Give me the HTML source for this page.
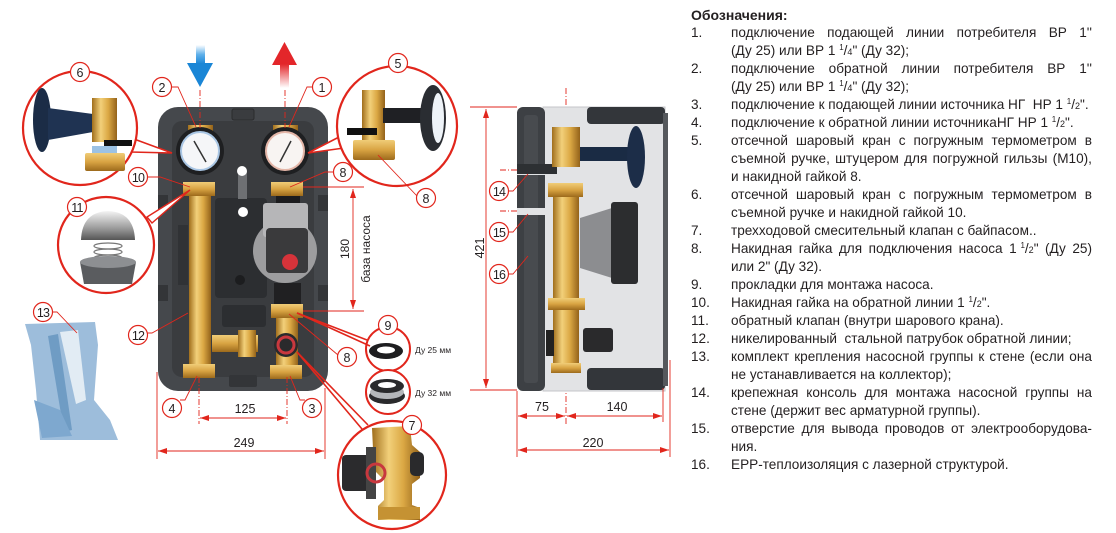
<!DOCTYPE html>
<html><head><meta charset="utf-8">
<style>
html,body{margin:0;padding:0;background:#fff;}
body{width:1116px;height:533px;position:relative;overflow:hidden;font-family:"Liberation Sans",sans-serif;color:#231f20;}
svg{position:absolute;left:0;top:0;}
.row{position:absolute;left:691px;width:401px;height:18px;line-height:18px;font-size:13.6px;white-space:nowrap;}
.n{position:absolute;left:0;top:0;}
.t{position:absolute;left:40px;top:0;width:361px;}
.j{display:flex;justify-content:space-between;}
.ttl{position:absolute;left:691px;top:6px;height:18px;line-height:18px;font-size:14px;font-weight:bold;}
sup{font-size:8px;vertical-align:5px;line-height:0;}
.s{font-size:9px;}
</style></head><body>
<svg width="1116" height="533" viewBox="0 0 1116 533" xmlns="http://www.w3.org/2000/svg" font-family="Liberation Sans, sans-serif">
<defs>
<linearGradient id="brH" x1="0" x2="1" y1="0" y2="0">
<stop offset="0" stop-color="#a06e1c"/><stop offset="0.35" stop-color="#f2d07a"/><stop offset="0.65" stop-color="#dba844"/><stop offset="1" stop-color="#93621a"/></linearGradient>
<linearGradient id="brV" x1="0" x2="0" y1="0" y2="1">
<stop offset="0" stop-color="#f0cd78"/><stop offset="0.5" stop-color="#d8a342"/><stop offset="1" stop-color="#9c6a1c"/></linearGradient>
<linearGradient id="blue" x1="0" x2="0" y1="0" y2="1">
<stop offset="0" stop-color="#ffffff"/><stop offset="0.5" stop-color="#5fb0ea"/><stop offset="1" stop-color="#1a86d6"/></linearGradient>
<linearGradient id="red" x1="0" x2="0" y1="0" y2="1">
<stop offset="0" stop-color="#e3262a"/><stop offset="1" stop-color="#ffffff"/></linearGradient>
<linearGradient id="silver" x1="0" x2="0" y1="0" y2="1">
<stop offset="0" stop-color="#f4f4f4"/><stop offset="0.6" stop-color="#9a9a9a"/><stop offset="1" stop-color="#555"/></linearGradient>
<marker id="ar" markerWidth="9" markerHeight="6" refX="9" refY="3" orient="auto-start-reverse" markerUnits="userSpaceOnUse">
<path d="M0,0 L9,3 L0,6z" fill="#e1261c"/></marker>
</defs>

<!-- ===== Front view panel ===== -->
<rect x="158" y="107" width="170" height="284" rx="20" fill="#45484c"/>
<rect x="172" y="121" width="142" height="256" rx="10" fill="#3a3c3f"/>
<rect x="232" y="109" width="22" height="11" rx="2" fill="#3a3c3f" stroke="#2a2b2d"/>
<rect x="158" y="195" width="10" height="16" fill="#333538"/>
<rect x="158" y="285" width="10" height="16" fill="#333538"/>
<rect x="318" y="195" width="10" height="16" fill="#333538"/>
<rect x="318" y="285" width="10" height="16" fill="#333538"/>
<rect x="215" y="198" width="52" height="100" rx="4" fill="#2c2e31"/>
<rect x="222" y="305" width="44" height="22" rx="3" fill="#2c2e31"/>
<rect x="178" y="225" width="10" height="60" fill="#303235"/>
<rect x="229" y="375" width="28" height="12" rx="2" fill="#333538"/>
<rect x="238" y="171" width="9" height="28" fill="#6e7073"/>
<circle cx="242" cy="171" r="5" fill="#fff"/>
<circle cx="243" cy="212" r="5" fill="#fff"/>
<circle cx="240" cy="280" r="5" fill="#1c1d1f"/>

<!-- gauges -->
<rect x="188" y="125" width="25" height="8" fill="url(#brH)"/>
<rect x="273" y="125" width="25" height="8" fill="url(#brH)"/>
<circle cx="200" cy="151" r="24" fill="#1e1f21"/>
<circle cx="200" cy="151" r="19" fill="#f5f6f8" stroke="#a9c6e4" stroke-width="2"/>
<line x1="194" y1="141" x2="206" y2="162" stroke="#333" stroke-width="1.5"/>
<circle cx="285" cy="151" r="24" fill="#1e1f21"/>
<circle cx="285" cy="151" r="19" fill="#f8f4f2" stroke="#e4b6a8" stroke-width="2"/>
<line x1="291" y1="141" x2="280" y2="162" stroke="#333" stroke-width="1.5"/>

<!-- brass nuts & pipe left -->
<rect x="183" y="182" width="32" height="14" fill="url(#brV)"/>
<rect x="189" y="196" width="22" height="168" fill="url(#brH)"/>
<rect x="183" y="364" width="32" height="14" fill="url(#brV)"/>
<!-- right side -->
<rect x="271" y="182" width="32" height="14" fill="url(#brV)"/>
<rect x="276" y="196" width="24" height="10" fill="#1c1c1e"/>
<circle cx="285" cy="251" r="32" fill="#9d9d9f"/>
<rect x="263" y="203" width="45" height="34" rx="3" fill="#b6b6b8"/>
<rect x="266" y="228" width="42" height="45" rx="4" fill="#3a3a3c"/>
<circle cx="290" cy="262" r="8" fill="#d6333a"/>
<rect x="274" y="283" width="27" height="22" fill="#202022"/>
<rect x="271" y="304" width="32" height="14" fill="url(#brV)"/>
<rect x="276" y="318" width="22" height="48" fill="url(#brH)"/>
<rect x="212" y="335" width="46" height="17" fill="url(#brV)"/>
<rect x="238" y="330" width="18" height="27" fill="url(#brH)"/>
<circle cx="286" cy="345" r="12" fill="#2a2a2c"/>
<circle cx="286" cy="345" r="8" fill="none" stroke="#c8383e" stroke-width="3"/>
<rect x="270" y="365" width="32" height="14" fill="url(#brV)"/>

<!-- flow arrows -->
<rect x="196" y="45" width="9" height="19" fill="url(#blue)"/>
<polygon points="187,63 213,63 200,87" fill="#1a86d6"/>
<polygon points="272,65 297,65 284.5,42" fill="#e3262a"/>
<rect x="280" y="64" width="9" height="24" fill="url(#red)"/>
<g stroke="#e1261c" stroke-width="0.9" fill="none" stroke-dasharray="6,2,1,2">
<line x1="200" y1="90" x2="200" y2="128"/>
<line x1="285" y1="90" x2="285" y2="128"/>
<line x1="199" y1="377" x2="199" y2="424"/>
<line x1="287" y1="377" x2="287" y2="424"/>
<line x1="566" y1="88" x2="566" y2="425"/>
<line x1="500" y1="170" x2="549" y2="170"/>
<line x1="500" y1="211" x2="551" y2="211"/>
</g>

<!-- dimensions front -->
<g stroke="#e1261c" stroke-width="0.9" fill="none">
<line x1="157" y1="372" x2="157" y2="459"/>
<line x1="325" y1="388" x2="325" y2="459"/>
<line x1="200" y1="418" x2="286" y2="418" marker-start="url(#ar)" marker-end="url(#ar)"/>
<line x1="158" y1="451" x2="324" y2="451" marker-start="url(#ar)" marker-end="url(#ar)"/>
<line x1="303" y1="187" x2="364" y2="187"/>
<line x1="303" y1="311" x2="364" y2="311"/>
<line x1="353" y1="189" x2="353" y2="309" marker-start="url(#ar)" marker-end="url(#ar)"/>
</g>
<g font-size="12.5" fill="#231f20" text-anchor="middle">
<text x="245" y="413">125</text>
<text x="244" y="447">249</text>
<text transform="translate(349,249) rotate(-90)" font-size="12">180</text>
<text transform="translate(370,249) rotate(-90)" font-size="12">база насоса</text>
</g>

<!-- ===== Side view ===== -->
<rect x="543" y="107" width="122" height="284" fill="#e2e3e5" stroke="#c4c6c9" stroke-width="1"/>
<rect x="517" y="107" width="28" height="284" rx="6" fill="#3d4044"/>
<rect x="524" y="115" width="14" height="268" rx="3" fill="#484b4f"/>
<rect x="517" y="167" width="30" height="8" fill="#e2e3e5"/>
<rect x="517" y="208" width="30" height="7" fill="#e2e3e5"/>
<rect x="517" y="164" width="40" height="10" fill="#2d3033"/>
<rect x="587" y="107" width="78" height="17" rx="4" fill="#33363a"/>
<rect x="587" y="368" width="78" height="22" rx="4" fill="#33363a"/>
<rect x="663" y="113" width="5" height="273" fill="#55585c"/>
<rect x="552" y="127" width="28" height="40" fill="url(#brH)"/>
<rect x="580" y="147" width="50" height="14" fill="#1a2b44"/>
<ellipse cx="636" cy="157" rx="9" ry="31" fill="#1c2d48"/>
<rect x="548" y="183" width="35" height="14" fill="url(#brV)"/>
<rect x="553" y="197" width="26" height="172" fill="url(#brH)"/>
<rect x="551" y="363" width="30" height="10" fill="url(#brV)"/>
<polygon points="580,218 612,208 612,278 580,268" fill="#8c8d90"/>
<rect x="611" y="202" width="27" height="82" rx="3" fill="#2c2d2f"/>
<rect x="548" y="298" width="37" height="12" fill="url(#brV)"/>
<rect x="546" y="330" width="8" height="26" fill="#222"/>
<rect x="583" y="328" width="30" height="24" rx="3" fill="#2a2a2c"/>

<g stroke="#e1261c" stroke-width="0.9" fill="none">
<line x1="470" y1="107" x2="517" y2="107"/>
<line x1="470" y1="390" x2="517" y2="390"/>
<line x1="486" y1="109" x2="486" y2="388" marker-start="url(#ar)" marker-end="url(#ar)"/>
<line x1="517" y1="391" x2="517" y2="457"/>
<line x1="663" y1="388" x2="663" y2="422"/>
<line x1="670" y1="360" x2="670" y2="457"/>
<line x1="518" y1="416" x2="565" y2="416" marker-start="url(#ar)" marker-end="url(#ar)"/>
<line x1="567" y1="416" x2="662" y2="416" marker-start="url(#ar)" marker-end="url(#ar)"/>
<line x1="518" y1="450" x2="669" y2="450" marker-start="url(#ar)" marker-end="url(#ar)"/>
</g>
<g font-size="12.5" fill="#231f20" text-anchor="middle">
<text transform="translate(484,248) rotate(-90)">421</text>
<text x="542" y="411">75</text>
<text x="617" y="411">140</text>
<text x="593" y="447">220</text>
</g>

<!-- ===== Detail circles ===== -->
<!-- 6 -->
<polygon points="134,139 172,153 131,152" fill="#fff" stroke="#e1261c" stroke-width="1.6"/>
<circle cx="80" cy="128" r="57" fill="#fff" stroke="#e1261c" stroke-width="2.2"/>
<ellipse cx="42" cy="120" rx="9" ry="32" fill="#1b2c46"/>
<polygon points="48,108 93,114 93,132 48,140" fill="#1f3352"/>
<rect x="92" y="98" width="25" height="44" fill="url(#brH)"/>
<rect x="104" y="140" width="28" height="6" fill="#111"/>
<rect x="92" y="146" width="25" height="7" fill="#9cc2e4"/>
<rect x="85" y="153" width="40" height="18" rx="2" fill="url(#brV)"/>
<!-- 11 -->
<polygon points="147,217 190,190 152,223" fill="#fff" stroke="#e1261c" stroke-width="1.4"/>
<circle cx="106" cy="245" r="48" fill="#fff" stroke="#e1261c" stroke-width="2.2"/>
<path d="M81,240 Q82,212 108,211 Q134,212 135,240 Z" fill="url(#silver)"/>
<g stroke="#777" fill="none" stroke-width="1.2"><ellipse cx="108" cy="246" rx="14" ry="3"/><ellipse cx="108" cy="252" rx="14" ry="3"/><ellipse cx="108" cy="258" rx="14" ry="3"/></g>
<polygon points="80,262 136,262 132,284 84,284" fill="#5a5c5f"/>
<ellipse cx="108" cy="262" rx="28" ry="6" fill="#8d8f92"/>
<!-- 5 -->
<polygon points="341,136 308,153 344,148" fill="#fff" stroke="#e1261c" stroke-width="1.6"/>
<circle cx="397" cy="126" r="60" fill="#fff" stroke="#e1261c" stroke-width="2.2"/>
<rect x="362" y="90" width="23" height="52" fill="url(#brH)"/>
<rect x="347" y="128" width="30" height="7" fill="#111"/>
<rect x="383" y="108" width="40" height="15" fill="#1f2024"/>
<ellipse cx="433" cy="118" rx="13" ry="33" fill="#2a2d32"/>
<ellipse cx="438" cy="118" rx="6" ry="25" fill="#eef3f8"/>
<rect x="353" y="140" width="42" height="20" rx="2" fill="url(#brV)"/>
<!-- 9 -->
<circle cx="388" cy="349" r="22" fill="#fff" stroke="#e1261c" stroke-width="2"/>
<ellipse cx="386" cy="351" rx="17" ry="8" fill="#1e1e20"/>
<ellipse cx="386" cy="350" rx="9" ry="3.5" fill="#fff"/>
<circle cx="388" cy="392" r="22" fill="#fff" stroke="#e1261c" stroke-width="2"/>
<ellipse cx="387" cy="396" rx="18" ry="8" fill="#2a2a2c"/>
<ellipse cx="387" cy="392" rx="17" ry="7" fill="#b5b7ba"/>
<ellipse cx="387" cy="386" rx="17" ry="7" fill="#2a2a2c"/>
<ellipse cx="387" cy="385" rx="9" ry="3" fill="#fff"/>
<text x="415" y="353" font-size="8.5" fill="#231f20">Ду 25 мм</text>
<text x="415" y="396" font-size="8.5" fill="#231f20">Ду 32 мм</text>
<!-- 7 -->
<circle cx="392" cy="475" r="54" fill="#fff" stroke="#e1261c" stroke-width="2.2"/>
<path d="M372,428 L410,426 L412,445 L420,452 L420,478 L412,484 L412,505 L420,508 L420,520 L378,520 L378,506 L384,500 L384,480 L374,470 Z" fill="url(#brH)"/>
<rect x="410" y="452" width="14" height="24" rx="5" fill="#2a2a2c"/>
<rect x="342" y="455" width="30" height="36" rx="4" fill="#2b2b2d"/>
<rect x="366" y="447" width="10" height="52" fill="#444"/>
<circle cx="376" cy="473" r="9" fill="none" stroke="#c8383e" stroke-width="3"/>
<rect x="378" y="507" width="42" height="12" fill="#c59233"/>

<!-- bag 13 -->
<path d="M25,324 L95,322 L98,345 L94,400 L110,420 L118,440 L40,440 L36,390 L31,345 Z" fill="#9dbddb"/>
<path d="M48,336 L58,334 L72,430 L64,432 Z" fill="#6f9cc4"/>
<path d="M60,332 L78,330 L86,400 L76,404 Z" fill="#e2ecf4"/>
<path d="M34,400 L60,410 L72,436 L42,438 Z" fill="#7ea8cf"/>

<!-- leader lines -->
<g stroke="#e1261c" stroke-width="0.9" fill="none">
<polyline points="171,87 178,87 196,127"/>
<polyline points="313,87 307,87 289,127"/>
<polyline points="147,177 160,177 190,187"/>
<polyline points="334,172 325,172 290,187"/>
<line x1="417" y1="196" x2="378" y2="155"/>
<line x1="338" y1="355" x2="289" y2="314"/>
<polyline points="147,333 152,333 188,313"/>
<polyline points="180,400 185,400 197,376"/>
<polyline points="305,400 300,400 290,376"/>
<polyline points="52,312 57,312 77,333"/>
<polyline points="508,191 513,191 528,174"/>
<polyline points="508,232 513,232 528,214"/>
<polyline points="508,274 513,274 528,256"/>
</g>
<g stroke="#e1261c" stroke-width="1.6" fill="none">
<line x1="297" y1="313" x2="367" y2="340"/>
<line x1="297" y1="313" x2="370" y2="346"/>
<line x1="297" y1="352" x2="362" y2="429"/>
<line x1="297" y1="352" x2="368" y2="425"/>
</g>

<!-- number callouts -->
<g font-size="12.5" fill="#231f20" text-anchor="middle">
<g fill="#fff" stroke="#e1261c" stroke-width="1.2">
<circle cx="162" cy="87" r="9.5"/><circle cx="322" cy="87" r="9.5"/>
<circle cx="80" cy="72" r="9.5"/><circle cx="398" cy="63" r="9.5"/>
<circle cx="138" cy="177" r="9.5"/><circle cx="343" cy="172" r="9.5"/>
<circle cx="77" cy="207" r="9.5"/><circle cx="426" cy="198" r="9.5"/>
<circle cx="43" cy="312" r="9.5"/><circle cx="138" cy="335" r="9.5"/>
<circle cx="388" cy="325" r="9.5"/><circle cx="347" cy="357" r="9.5"/>
<circle cx="172" cy="408" r="9.5"/><circle cx="312" cy="408" r="9.5"/>
<circle cx="412" cy="425" r="9.5"/>
<circle cx="499" cy="191" r="9.5"/><circle cx="499" cy="232" r="9.5"/><circle cx="499" cy="274" r="9.5"/>
</g>
<text x="162" y="92">2</text><text x="322" y="92">1</text>
<text x="80" y="77">6</text><text x="398" y="68">5</text>
<text x="138" y="182" letter-spacing="-0.8">10</text><text x="343" y="177">8</text>
<text x="77" y="212" letter-spacing="-0.8">11</text><text x="426" y="203">8</text>
<text x="43" y="317" letter-spacing="-0.8">13</text><text x="138" y="340" letter-spacing="-0.8">12</text>
<text x="388" y="330">9</text><text x="347" y="362">8</text>
<text x="172" y="413">4</text><text x="312" y="413">3</text>
<text x="412" y="430">7</text>
<text x="499" y="196" letter-spacing="-0.8">14</text><text x="499" y="237" letter-spacing="-0.8">15</text><text x="499" y="279" letter-spacing="-0.8">16</text>
</g>
</svg>

<div class="ttl">Обозначения:</div>
<div class="row" style="top:24px"><span class="n">1.</span><span class="t j"><span>подключение</span><span>подающей</span><span>линии</span><span>потребителя</span><span>ВР</span><span>1''</span></span></div>
<div class="row" style="top:42px"><span class="t">(Ду 25) или ВР 1 <sup>1</sup>/<span class="s">4</span>" (Ду 32);</span></div>
<div class="row" style="top:60px"><span class="n">2.</span><span class="t j"><span>подключение</span><span>обратной</span><span>линии</span><span>потребителя</span><span>ВР</span><span>1''</span></span></div>
<div class="row" style="top:78px"><span class="t">(Ду 25) или ВР 1 <sup>1</sup>/<span class="s">4</span>" (Ду 32);</span></div>
<div class="row" style="top:96px"><span class="n">3.</span><span class="t">подключение к подающей линии источника НГ&nbsp; НР 1 <sup>1</sup>/<span class="s">2</span>".</span></div>
<div class="row" style="top:114px"><span class="n">4.</span><span class="t">подключение к обратной линии источникаНГ НР 1 <sup>1</sup>/<span class="s">2</span>".</span></div>
<div class="row" style="top:132px"><span class="n">5.</span><span class="t j"><span>отсечной</span><span>шаровый</span><span>кран</span><span>с</span><span>погружным</span><span>термометром</span><span>в</span></span></div>
<div class="row" style="top:150px"><span class="t j"><span>съемной</span><span>ручке,</span><span>штуцером</span><span>для</span><span>погружной</span><span>гильзы</span><span>(М10),</span></span></div>
<div class="row" style="top:168px"><span class="t">и накидной гайкой 8.</span></div>
<div class="row" style="top:186px"><span class="n">6.</span><span class="t j"><span>отсечной</span><span>шаровый</span><span>кран</span><span>с</span><span>погружным</span><span>термометром</span><span>в</span></span></div>
<div class="row" style="top:204px"><span class="t">съемной ручке и накидной гайкой 10.</span></div>
<div class="row" style="top:222px"><span class="n">7.</span><span class="t">трехходовой смесительный клапан с байпасом..</span></div>
<div class="row" style="top:240px"><span class="n">8.</span><span class="t j"><span>Накидная</span><span>гайка</span><span>для</span><span>подключения</span><span>насоса</span><span>1&nbsp;<sup>1</sup>/<span class="s">2</span>"</span><span>(Ду</span><span>25)</span></span></div>
<div class="row" style="top:258px"><span class="t">или 2" (Ду 32).</span></div>
<div class="row" style="top:276px"><span class="n">9.</span><span class="t">прокладки для монтажа насоса.</span></div>
<div class="row" style="top:294px"><span class="n">10.</span><span class="t">Накидная гайка на обратной линии 1 <sup>1</sup>/<span class="s">2</span>".</span></div>
<div class="row" style="top:312px"><span class="n">11.</span><span class="t">обратный клапан (внутри шарового крана).</span></div>
<div class="row" style="top:330px"><span class="n">12.</span><span class="t">никелированный&nbsp; стальной патрубок обратной линии;</span></div>
<div class="row" style="top:348px"><span class="n">13.</span><span class="t j"><span>комплект</span><span>крепления</span><span>насосной</span><span>группы</span><span>к</span><span>стене</span><span>(если</span><span>она</span></span></div>
<div class="row" style="top:366px"><span class="t">не устанавливается на коллектор);</span></div>
<div class="row" style="top:384px"><span class="n">14.</span><span class="t j"><span>крепежная</span><span>консоль</span><span>для</span><span>монтажа</span><span>насосной</span><span>группы</span><span>на</span></span></div>
<div class="row" style="top:402px"><span class="t">стене (держит вес арматурной группы).</span></div>
<div class="row" style="top:420px"><span class="n">15.</span><span class="t j"><span>отверстие</span><span>для</span><span>вывода</span><span>проводов</span><span>от</span><span>электрооборудова-</span></span></div>
<div class="row" style="top:438px"><span class="t">ния.</span></div>
<div class="row" style="top:456px"><span class="n">16.</span><span class="t">EPP-теплоизоляция с лазерной структурой.</span></div>
</body></html>
